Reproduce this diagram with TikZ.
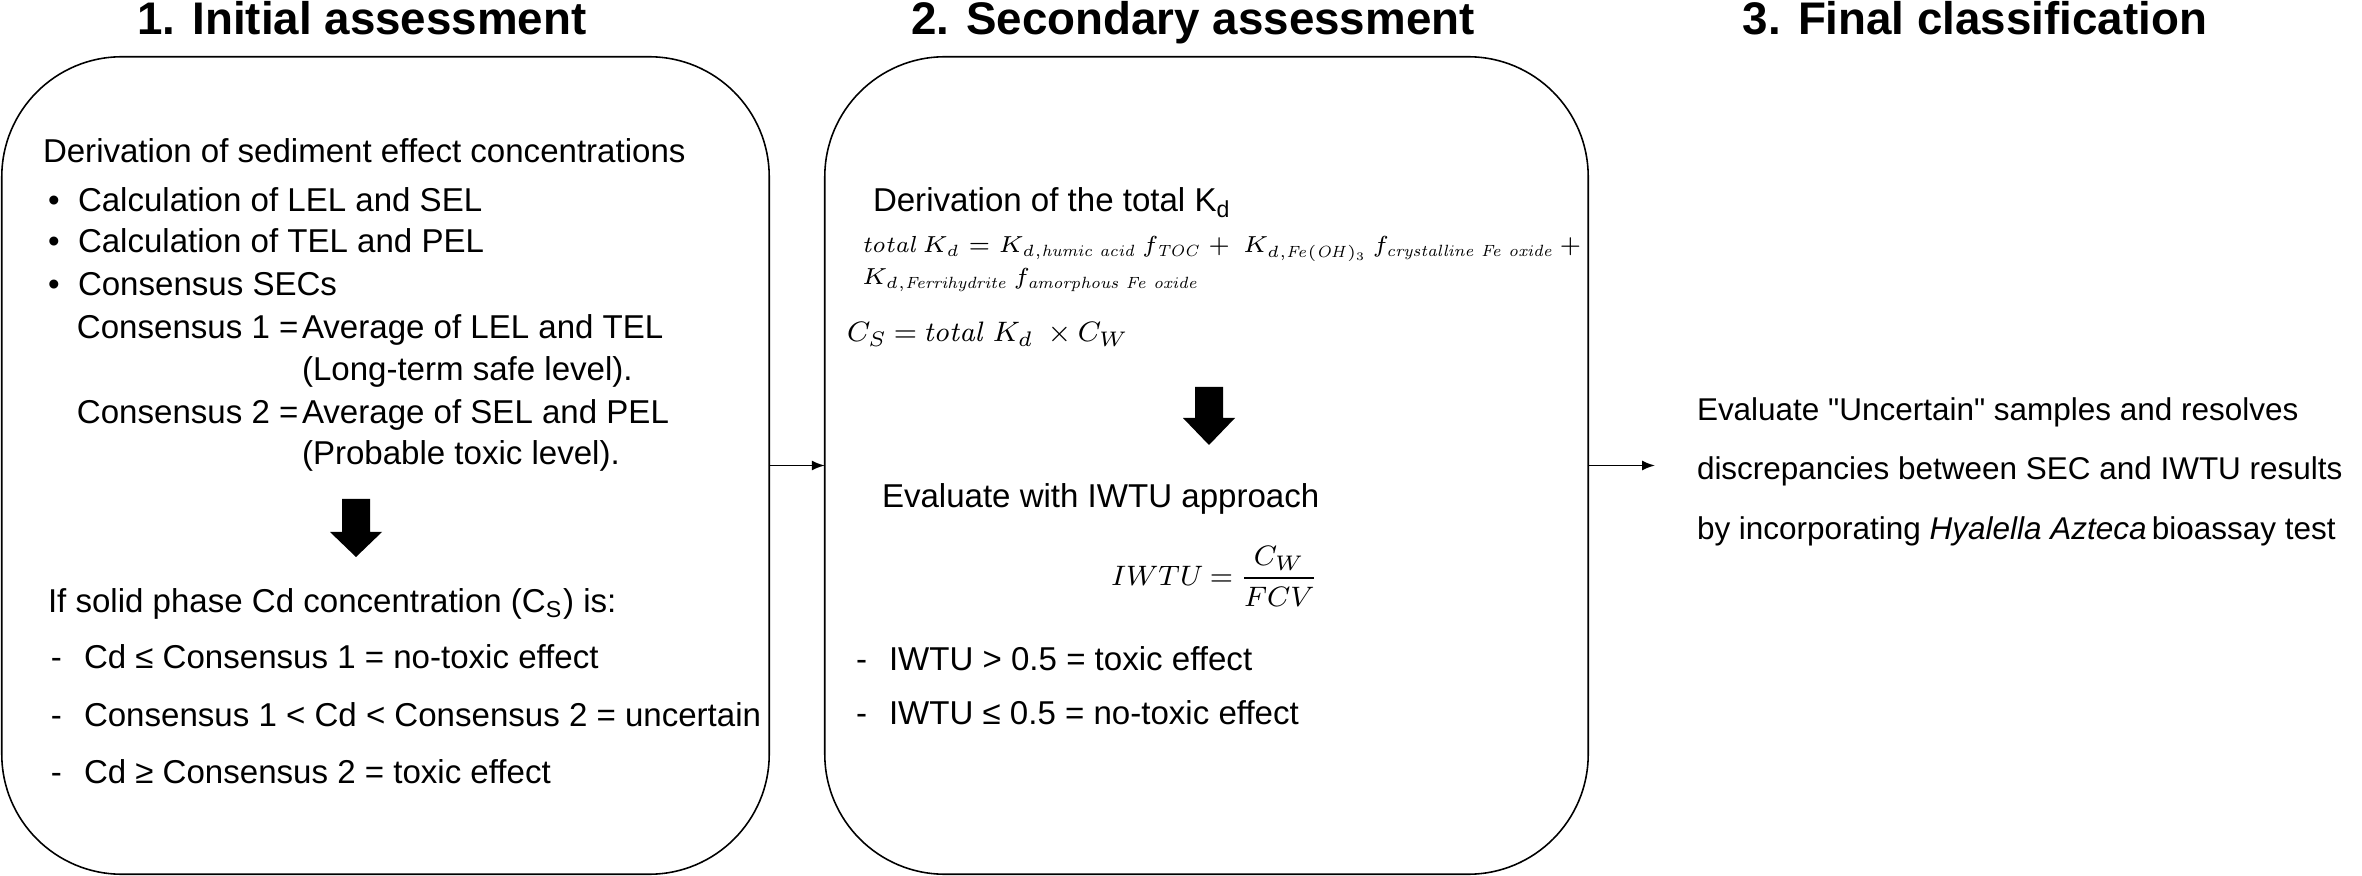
\RequirePackage{fix-cm}
\documentclass[tikz,border=0pt]{standalone}
\usepackage[no-math]{fontspec}
\setmainfont{Liberation Sans}
\newfontfamily\plainsans{Liberation Sans}
\usetikzlibrary{arrows.meta}
\tikzset{
  box/.style={draw, line width=0.45pt, rounded corners=1.2cm, inner sep=0pt, outer sep=0pt, minimum height=8.17cm},
  txt/.style={inner sep=0pt, outer sep=0pt, anchor=base west, font=\fontsize{9.4pt}{11pt}\selectfont},
  rtxt/.style={inner sep=0pt, outer sep=0pt, anchor=base west, font=\fontsize{8.95pt}{11pt}\selectfont},
  ttl/.style={inner sep=0pt, outer sep=0pt, anchor=base, font=\fontsize{13pt}{15pt}\selectfont\bfseries},
  mth/.style={inner sep=0pt, outer sep=0pt, anchor=base west, font=\fontsize{6.6pt}{9pt}\selectfont},
  mthb/.style={inner sep=0pt, outer sep=0pt, anchor=base west, font=\fontsize{8pt}{10pt}\selectfont},
  conn/.style={line width=0.45pt, -{Latex[length=0.13cm,width=0.1cm]}},
  blk/.style={fill=black},
}
\begin{document}
\begin{tikzpicture}[x=0.01cm,y=-0.01cm]
\useasboundingbox (0,0) rectangle (2362,876);

% titles
\node[ttl] (h1) at (362,35) {1. Initial assessment};
\node[ttl] (h2) at (1193,35) {2. Secondary assessment};
\node[ttl] (h3) at (1975,35) {3. Final classification};

% boxes
\node[box, minimum width=7.67cm] (b1) at (385.5,465.5) {};
\node[box, minimum width=7.63cm] (b2) at (1206.5,465.5) {};

% box 1 text
\node[txt] (a0) at (43,163) {Derivation of sediment effect concentrations};
\node[txt] (a1b) at (48,212) {•};
\node[txt] (a1) at (78,212) {Calculation of LEL and SEL};
\node[txt] (a2b) at (48,253) {•};
\node[txt] (a2) at (78,253) {Calculation of TEL and PEL};
\node[txt] (a3b) at (48,296) {•};
\node[txt] (a3) at (78,296) {Consensus SECs};
\node[txt] (a4) at (77,339) {Consensus 1 =};
\node[txt] (a4r) at (302,339) {Average of LEL and TEL};
\node[txt] (a5r) at (302,380) {(Long-term safe level).};
\node[txt] (a6) at (77,423) {Consensus 2 =};
\node[txt] (a6r) at (302,423) {Average of SEL and PEL};
\node[txt] (a7r) at (302,465) {(Probable toxic level).};

\fill[blk] (342,499) -- (370,499) -- (370,532) -- (382,532) -- (356,557) -- (330,532) -- (342,532) -- cycle;

\node[txt] (c0) at (48,613) {If solid phase Cd concentration (C\textsubscript{S}) is:};
\node[txt] (c1d) at (51,669) {-};
\node[txt] (c1) at (84,669) {Cd ≤ Consensus 1 = no-toxic effect};
\node[txt] (c2d) at (51,726) {-};
\node[txt] (c2) at (84,726) {Consensus 1 < Cd < Consensus 2 = uncertain};
\node[txt] (c3d) at (51,783) {-};
\node[txt] (c3) at (84,783) {Cd ≥ Consensus 2 = toxic effect};

% box 2 text
\node[txt] (d0) at (873,212) {Derivation of the total K\textsubscript{d}};
\node[mth] (d1) at (862,253) {$\mathit{total}\,K_d = K_{d,\mathit{humic\ acid}}\,f_{\mathit{TOC}} + \ K_{d,\mathit{Fe}(\mathit{OH})_3}\,f_{\mathit{crystalline\ Fe\ oxide}}\,+$};
\node[mth] (d2) at (862,285) {$K_{d,\mathit{Ferrihydrite}}\,f_{\mathit{amorphous\ Fe\ oxide}}$};
\node[mthb] (d3) at (847,342) {$\thickmuskip=4mu C_S = \mathit{total}\ K_d\ \times C_W$};

\fill[blk] (1195,387) -- (1223,387) -- (1223,418) -- (1235,418) -- (1209,445) -- (1183,418) -- (1195,418) -- cycle;

\node[txt] (e0) at (882,508) {Evaluate with IWTU approach};
\node[mthb] (e1) at (1111,585) {$\thickmuskip=4mu\displaystyle IWTU = \frac{C_W}{FCV}$};
\node[txt] (e2d) at (856,670) {-};
\node[txt] (e2) at (889,670) {IWTU > 0.5 = toxic effect};
\node[txt] (e3d) at (856,725) {-};
\node[txt] (e3) at (889,725) {IWTU ≤ 0.5 = no-toxic effect};

% final text
\node[rtxt] (f1) at (1697,421) {Evaluate {\plainsans"}Uncertain{\plainsans"} samples and resolves};
\node[rtxt] (f2) at (1697,480) {discrepancies between SEC and IWTU results};
\node[rtxt] (f3) at (1697,540) {by incorporating \textit{Hyalella Azteca}\,bioassay test};

% connectors
\coordinate (fin) at (1655,465.5);
\draw[conn] (b1) -- (b2);
\draw[conn] (b2) -- (fin);
\end{tikzpicture}
\end{document}
